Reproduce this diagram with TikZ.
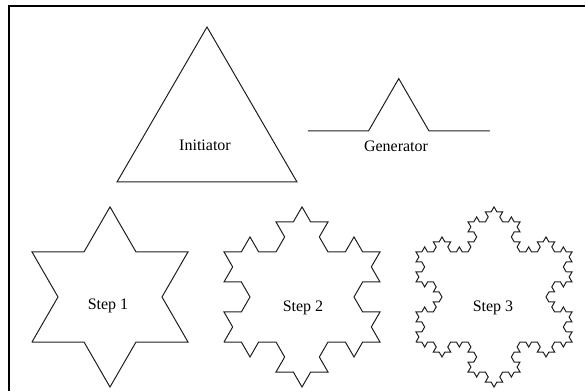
\documentclass[tikz,border=0pt]{standalone}
\usepackage{fontspec}
\setmainfont{Liberation Serif}
\usetikzlibrary{lindenmayersystems}

% Koch rule: each segment becomes four, with an outward spike
\pgfdeclarelindenmayersystem{Koch}{\rule{F -> F-F++F-F}}

\tikzset{
  outline/.style={draw=black!88, line width=1pt, line join=miter, line cap=round},
  frame/.style={draw=black, line width=1.6pt},
  caption/.style={font=\fontsize{16}{18}\selectfont, text=black, inner sep=0pt}
}

\begin{document}
\begin{tikzpicture}[x=1pt,y=1pt]
  \useasboundingbox (0,0) rectangle (586,391);

  % partial frame: top and left edges
  \draw[frame] (9,0) -- (9,385) -- (585,385);

  % initiator: equilateral triangle
  \draw[outline] (117,209) -- (207,364) -- (297,209) -- cycle;
  \node[caption] (initiator) at (205,246) {Initiator};

  % generator: straight segment with a triangular bump
  \draw[outline] (308,260) -- (368.5,260) -- (398.75,312.4) -- (429,260) -- (489.5,260);
  \node[caption] (generator) at (396,245) {Generator};

  % successive Koch iterations (side of base triangle = 156)
  \begin{scope}[shift={(32,49)}]
    \draw[outline, lindenmayer system={Koch, axiom=F++F++F, order=1, step=52pt, angle=60}]
      lindenmayer system;
  \end{scope}
  \node[caption] (step1) at (108,85) {Step 1};

  \begin{scope}[shift={(224,49)}]
    \draw[outline, lindenmayer system={Koch, axiom=F++F++F, order=2, step=17.333pt, angle=60}]
      lindenmayer system;
  \end{scope}
  \node[caption] (step2) at (303,83) {Step 2};

  \begin{scope}[shift={(416,49)}]
    \draw[outline, lindenmayer system={Koch, axiom=F++F++F, order=3, step=5.778pt, angle=60}]
      lindenmayer system;
  \end{scope}
  \node[caption] (step3) at (493,83) {Step 3};
\end{tikzpicture}
\end{document}
